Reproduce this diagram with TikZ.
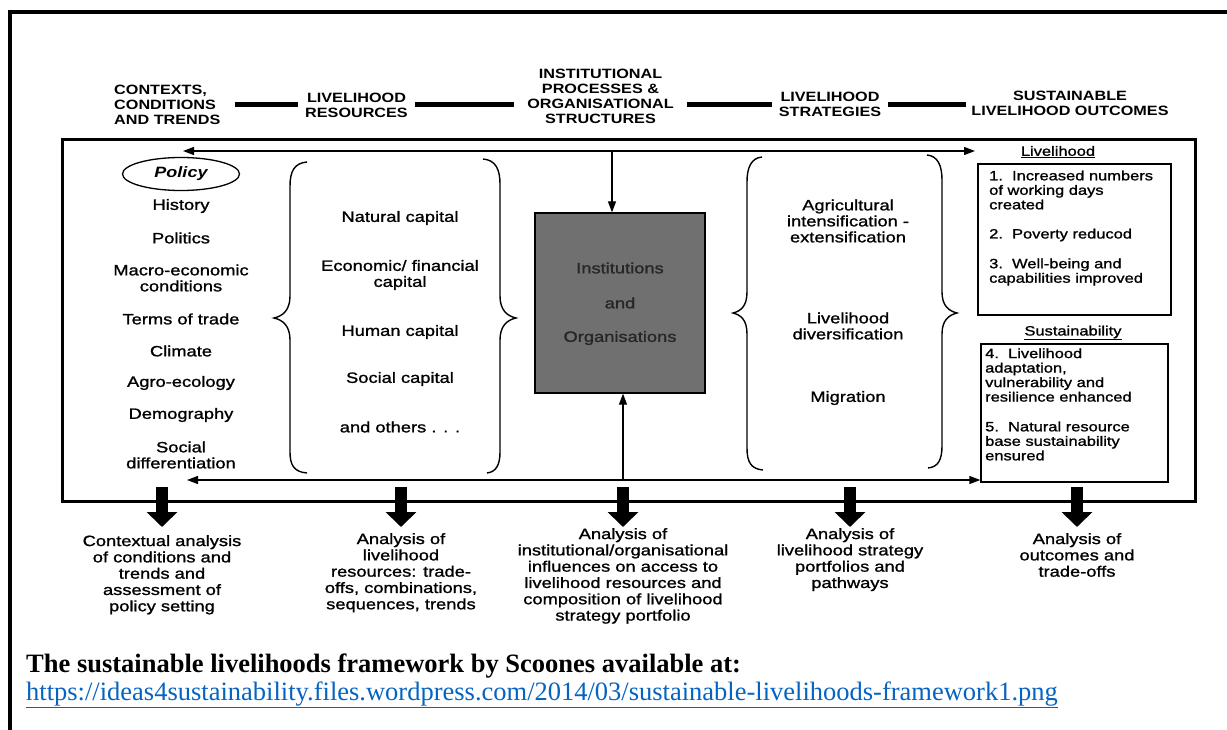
\documentclass[tikz,border=0pt]{standalone}
\usepackage{fontspec}
\usetikzlibrary{arrows.meta,shapes.geometric}
\newfontfamily\dfont[FakeStretch=1.22,FakeBold=1.2]{Liberation Sans}
\newfontfamily\hfont[FakeStretch=1.2]{Liberation Sans}
\newfontfamily\cfont{Liberation Serif}
\definecolor{boxgray}{RGB}{112,112,112}
\definecolor{linkblue}{RGB}{5,99,193}
\begin{document}
\begin{tikzpicture}[x=1pt,y=-1pt,
  txt/.style={font=\dfont\fontsize{15}{16}\selectfont, align=center, inner sep=0pt},
  btxt/.style={font=\dfont\fontsize{15}{16.3}\selectfont, align=center, inner sep=0pt, anchor=north},
  hdr/.style={font=\hfont\bfseries\fontsize{13.5}{15}\selectfont, align=center, inner sep=0pt},
  small/.style={font=\dfont\fontsize{13.5}{14.5}\selectfont, align=left, inner sep=0pt, anchor=west},
  bar/.style={line width=5pt},
  thinline/.style={line width=1.3pt},
  arr/.style={thinline, -{Triangle[length=11pt,width=8pt]}},
  darr/.style={thinline, {Triangle[length=11pt,width=8pt]}-{Triangle[length=11pt,width=8pt]}},
  bigarr/.style={line width=12pt, -{Triangle[length=15pt,width=30pt]}},
  bracepath/.style={line width=1.4pt},
  ]
\useasboundingbox (0,0) rectangle (1227,730);
% outer frame
\draw[line width=4pt] (10,732) -- (10,12) -- (1232,12);
% inner frame
\draw[line width=3pt] (62,140) rectangle (1195,501);

% headers
\coordinate (hy) at (0,105);
\node[hdr, anchor=west, text width=121pt, align=left] (h1) at (114,105) {CONTEXTS,\\CONDITIONS\\AND TRENDS};
\node[hdr, minimum width=117pt] (h2) at (356.5,105) {LIVELIHOOD\\RESOURCES};
\node[hdr, minimum width=173pt] (h3) at (600.5,96) {INSTITUTIONAL\\PROCESSES \&\\ORGANISATIONAL\\STRUCTURES};
\node[hdr, minimum width=116pt] (h4) at (830,104) {LIVELIHOOD\\STRATEGIES};
\node[hdr, minimum width=208pt] (h5) at (1070,103) {SUSTAINABLE\\LIVELIHOOD OUTCOMES};
\draw[bar] (h1.east |- hy) -- (h2.west |- hy);
\draw[bar] (h2.east |- hy) -- (h3.west |- hy);
\draw[bar] (h3.east |- hy) -- (h4.west |- hy);
\draw[bar] (h4.east |- hy) -- (h5.west |- hy);

% left column
\node[ellipse, draw, thinline, minimum width=117pt, minimum height=33pt, inner sep=0pt,
  font=\hfont\bfseries\itshape\fontsize{15}{16}\selectfont] (policy) at (181,174) {Policy};
\node[txt] (c1) at (181,206) {History};
\node[txt] (c2) at (181,238) {Politics};
\node[txt] (c3) at (181,278) {Macro-economic\\conditions};
\node[txt] (c4) at (181,319) {Terms of trade};
\node[txt] (c5) at (181,351) {Climate};
\node[txt] (c6) at (181,383) {Agro-ecology};
\node[txt] (c7) at (181,415) {Demography};
\node[txt] (c8) at (181,455) {Social\\differentiation};

% resources
\draw[bracepath] (307,162) .. controls (294,163) and (290,172) .. (290,186) -- (290,296)
  .. controls (290,310) and (283,316) .. (274,318) .. controls (283,320) and (290,326) .. (290,340)
  -- (290,452) .. controls (290,465) and (294,472) .. (307,473);
\draw[bracepath] (483,159) .. controls (496,160) and (500,170) .. (500,184) -- (500,296)
  .. controls (500,310) and (507,316) .. (516,318) .. controls (507,320) and (500,326) .. (500,340)
  -- (500,452) .. controls (500,465) and (496,472) .. (487,473);
\node[txt] (r1) at (400,218) {Natural capital};
\node[txt] (r2) at (400,275) {Economic/ financial\\capital};
\node[txt] (r3) at (400,332) {Human capital};
\node[txt] (r4) at (400,379) {Social capital};
\node[txt] (r5) at (400,427) {and others . . .};

% institutions
\node[draw, thinline, fill=boxgray, minimum width=170pt, minimum height=180pt, inner sep=0pt] (inst) at (620,303) {};
\node[txt, text=black!85] (i1) at (620,268) {Institutions};
\node[txt, text=black!85] (i2) at (620,303) {and};
\node[txt, text=black!85] (i3) at (620,338) {Organisations};

% strategies
\draw[bracepath] (762,157) .. controls (751,158) and (747,168) .. (747,182) -- (747,292)
  .. controls (747,306) and (741,311) .. (733,313) .. controls (741,315) and (747,320) .. (747,334)
  -- (747,448) .. controls (747,462) and (751,469) .. (763,470);
\draw[bracepath] (927,155) .. controls (938,156) and (942,166) .. (942,180) -- (942,292)
  .. controls (942,306) and (949,311) .. (957,313) .. controls (949,315) and (942,320) .. (942,334)
  -- (942,446) .. controls (942,460) and (938,467) .. (928,468);
\node[txt] (s1) at (848,221) {Agricultural\\intensification -\\extensification};
\node[txt] (s2) at (848,326) {Livelihood\\diversification};
\node[txt] (s3) at (848,398) {Migration};

% outcomes
\node[txt, font=\dfont\fontsize{13.5}{14.5}\selectfont] (lvl) at (1058,152) {\underline{Livelihood}};
\node[draw, thinline, minimum width=193pt, minimum height=151pt, inner sep=0pt] (ob1) at (1074.5,239.5) {};
\node[small] (o1) at (989,190) {1.\ \ Increased numbers\\of working days\\created};
\node[small] (o2) at (989,235) {2.\ \ Poverty reducod};
\node[small] (o3) at (989,272) {3.\ \ Well-being and\\capabilities improved};
\node[txt, font=\dfont\fontsize{13.5}{14.5}\selectfont] (sus) at (1073,333) {\underline{Sustainability}};
\node[draw, thinline, minimum width=187pt, minimum height=138pt, inner sep=0pt] (ob2) at (1074.5,413) {};
\node[small] (o4) at (985,375) {4.\ \ Livelihood\\adaptation,\\vulnerability and\\resilience enhanced};
\node[small] (o5) at (985,441) {5.\ \ Natural resource\\base sustainability\\ensured};

% feedback arrows
\coordinate (tl) at (183,151);
\coordinate (tr) at (975,151);
\coordinate (tj) at (612,151);
\draw[darr] (tl) -- (tr);
\draw[arr] (tj) -- (tj |- inst.north);
\coordinate (bl) at (187,480);
\coordinate (bj) at (623,480);
\draw[darr] (bl) -- (ob2.west |- bl);
\draw[arr] (bj) -- (bj |- inst.south);

% bottom analysis texts
\node[btxt] (b1) at (162,535) {Contextual analysis\\of conditions and\\trends and\\assessment of\\policy setting};
\node[btxt] (b2) at (401,533) {Analysis of\\livelihood\\resources: trade-\\offs, combinations,\\sequences, trends};
\node[btxt] (b3) at (623,528) {Analysis of\\institutional/organisational\\influences on access to\\livelihood resources and\\composition of livelihood\\strategy portfolio};
\node[btxt] (b4) at (850,528) {Analysis of\\livelihood strategy\\portfolios and\\pathways};
\node[btxt] (b5) at (1077,533) {Analysis of\\outcomes and\\trade-offs};
\foreach \i/\x in {1/162,2/401,3/623,4/850,5/1077}{
  \coordinate (as\i) at (\x,487);
  \coordinate (ae\i) at (\x,527);
  \draw[bigarr] (as\i) -- (ae\i);
}

% caption
\node[anchor=base west, inner sep=0pt, font=\cfont\bfseries\fontsize{26.5}{28}\selectfont] (cap) at (26,672) {The sustainable livelihoods framework by Scoones available at:};
\node[anchor=base west, inner sep=0pt, font=\cfont\fontsize{26.5}{28}\selectfont, text=linkblue] (url) at (26,700) {\underline{https://ideas4sustainability.files.wordpress.com/2014/03/sustainable-livelihoods-framework1.png}};
\end{tikzpicture}
\end{document}
